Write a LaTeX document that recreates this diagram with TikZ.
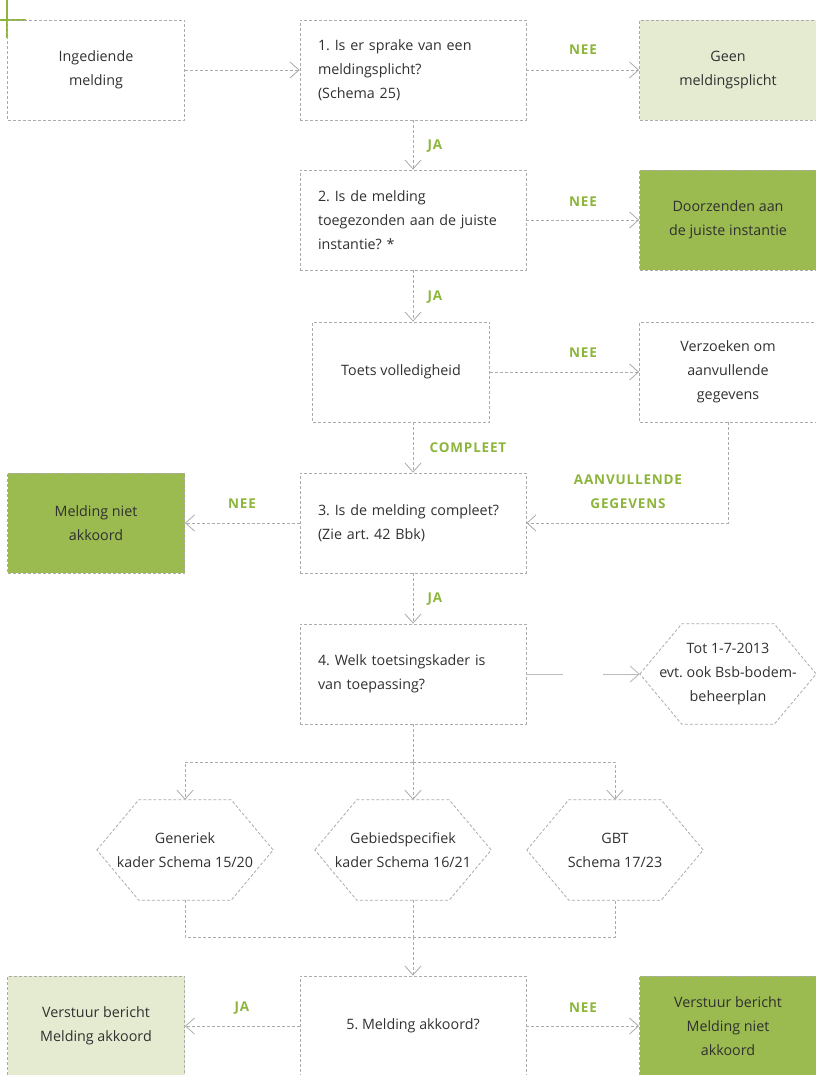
\documentclass[tikz,border=0pt]{standalone}
\usepackage{fontspec}
\setmainfont{Open Sans}
\newfontfamily\labfont[LetterSpace=6]{Open Sans}
\usetikzlibrary{arrows.meta}
\definecolor{dgreen}{HTML}{9BBB50}
\definecolor{lgreen}{HTML}{E4EBD0}
\definecolor{lblgreen}{HTML}{8DB53C}
\definecolor{txtgray}{HTML}{303030}
\definecolor{rimgray}{HTML}{ABABAB}
\begin{document}
\begin{tikzpicture}[x=1pt, y=-1pt, font=\fontsize{14.3}{24}\selectfont\frenchspacing, text=txtgray, line join=round,
	>={Straight Barb[length=9pt,width=16pt]},
	box/.style={draw=rimgray, line width=0.8pt, dash pattern=on 3pt off 2pt, minimum width=177, minimum height=100, align=center, inner sep=0pt},
	qbox/.style={box, text width=190, inner xsep=18pt, align=left},
	hexa/.style={minimum width=176, minimum height=100, align=center, inner sep=0pt},
	con/.style={rimgray, line width=0.8pt, dash pattern=on 3pt off 2pt},
	plain/.style={rimgray!80, line width=0.9pt},
	lab/.style={text=lblgreen, font=\labfont\bfseries\fontsize{13.5}{24}\selectfont, align=center}]
	\def\ind{42} % hexagon indent
	\useasboundingbox (0,0) rectangle (815,1075);
	% green corner mark
	\draw[lblgreen, line width=2.2pt] (7,0)--(7,38) (0,20)--(26,20);
	% boxes
	\node[box] (in) at (96,70) {Ingediende\\melding};
	\node[qbox] (q1) at (413,70) {1. Is er sprake van een\\meldingsplicht?\\(Schema 25)};
	\node[box, fill=lgreen] (geen) at (728,70) {Geen\\meldingsplicht};
	\node[qbox] (q2) at (413,220) {2. Is de melding\\toegezonden aan de juiste\\instantie? *};
	\node[box, fill=dgreen] (door) at (728,220) {Doorzenden aan\\de juiste instantie};
	\node[box] (toets) at (401,372) {Toets volledigheid};
	\node[box] (verz) at (728,372) {Verzoeken om\\aanvullende\\gegevens};
	\node[box, fill=dgreen] (niet) at (96,523) {Melding niet\\akkoord};
	\node[qbox] (q3) at (413,523) {3. Is de melding compleet?\\(Zie art. 42 Bbk)};
	\node[qbox] (q4) at (413,674) {4. Welk toetsingskader is\\van toepassing?};
	\node[hexa] (tot) at (728,674) {Tot 1-7-2013\\evt. ook Bsb-bodem-\\beheerplan};
	\node[hexa] (gen) at (185,850) {Generiek\\kader Schema 15/20};
	\node[hexa] (geb) at (403,850) {Gebiedspecifiek\\kader Schema 16/21};
	\node[hexa] (gbt) at (615,850) {GBT\\Schema 17/23};
	\node[box, minimum width=226] (q5) at (413,1026) {5. Melding akkoord?};
	\node[box, fill=lgreen] (akk) at (96,1026) {Verstuur bericht\\Melding akkoord};
	\node[box, fill=dgreen] (nakk) at (728,1026) {Verstuur bericht\\Melding niet\\akkoord};
	\foreach \h in {tot,gen,geb,gbt}
		\draw[con] (\h.west)--([xshift=\ind pt]\h.north west)--([xshift=-\ind pt]\h.north east)--(\h.east)--([xshift=-\ind pt]\h.south east)--([xshift=\ind pt]\h.south west)--cycle;
	% labels
	\node[lab] (n1) at (583,50) {NEE};
	\node[lab] (j1) at (435,146) {JA};
	\node[lab] (n2) at (583,202) {NEE};
	\node[lab] (j2) at (435,297) {JA};
	\node[lab] (n3) at (583,353) {NEE};
	\node[lab] (cp) at (468,448) {COMPLEET};
	\node[lab] (av) at (628,492) {AANVULLENDE\\GEGEVENS};
	\node[lab] (n4) at (242,504) {NEE};
	\node[lab] (j3) at (435,599) {JA};
	\node[lab] (j4) at (242,1008) {JA};
	\node[lab] (n5) at (583,1008) {NEE};
	% connectors
	\coordinate (split) at (413,762);
	\coordinate (join) at (413,937);
	\draw[con,->] (in.east)--(q1.west);
	\draw[con,->] (q1.east)--(geen.west);
	\draw[con,->] (q1.south)--(q2.north);
	\draw[con,->] (q2.east)--(door.west);
	\draw[con,->] (q2.south)--(q2.south |- toets.north);
	\draw[con,->] (toets.east)--(verz.west);
	\draw[con,->] (q2.south |- toets.south)--(q3.north);
	\draw[con,->] (verz.south) |- (q3.east);
	\draw[con,->] (q3.west)--(niet.east);
	\draw[con,->] (q3.south)--(q4.north);
	\draw[plain] (q4.east)--++(37,0);
	\draw[plain,->] ([xshift=-37pt]tot.west)--(tot.west);
	\draw[con] (q4.south)--(split);
	\draw[con,->] (split) -| (gen.north);
	\draw[con,->] (split) -| (gbt.north);
	\draw[con,->] (split)--(split |- geb.north);
	\draw[con] (gen.south) |- (join) -| (gbt.south);
	\draw[con] (join |- geb.south)--(join);
	\draw[con,->] (join)--(q5.north);
	\draw[con,->] (q5.west)--(akk.east);
	\draw[con,->] (q5.east)--(nakk.west);
\end{tikzpicture}
\end{document}
